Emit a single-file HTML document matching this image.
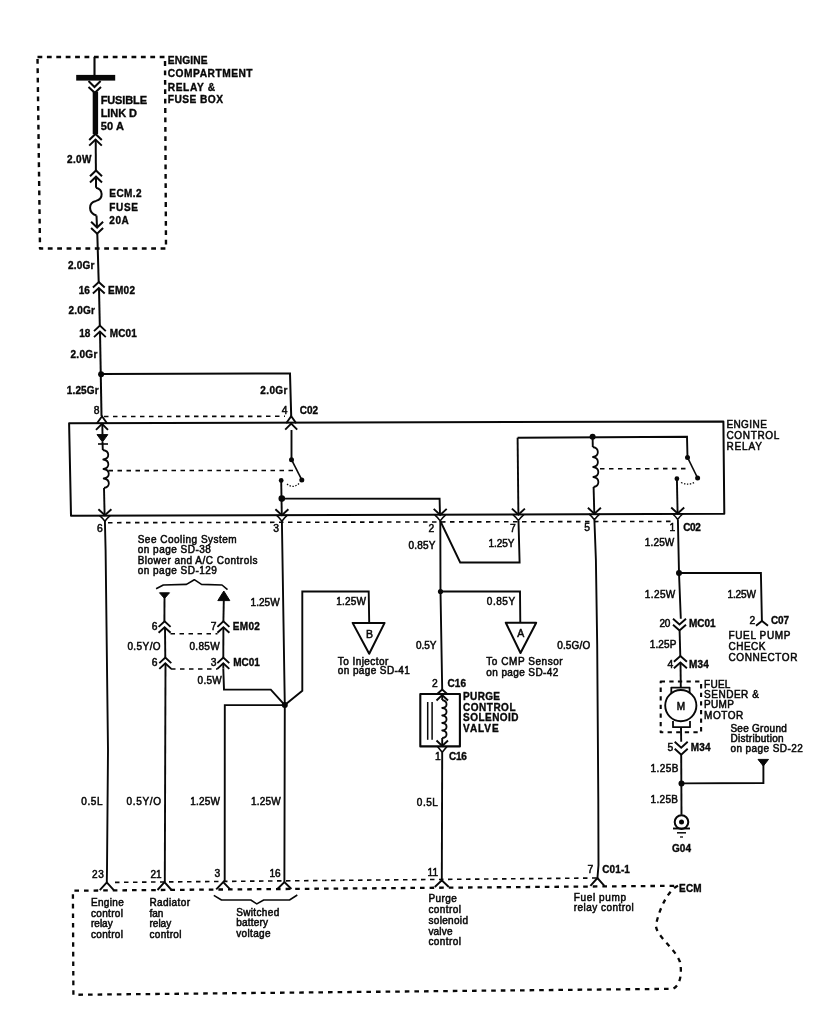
<!DOCTYPE html>
<html><head><meta charset="utf-8"><style>
html,body{margin:0;padding:0;background:#fff;}
svg{display:block;will-change:transform;}
text{font-family:"Liberation Sans",sans-serif;fill:#080808;}
text.r{stroke:#080808;stroke-width:0.5px;}
text[font-weight]{stroke:#080808;stroke-width:0.35px;}
</style></head><body>
<svg width="813" height="1024" viewBox="0 0 813 1024">
<rect width="813" height="1024" fill="#fff"/>
<path d="M37.5 57 L165 57 L166 248.5 L40 248.5 Z" fill="none" stroke="#080808" stroke-width="2.40" stroke-linecap="butt" stroke-linejoin="round" stroke-dasharray="4.8 4.6"/>
<text x="167.7" y="64.0" font-size="10.2" font-weight="bold" textLength="39.9" lengthAdjust="spacing">ENGINE</text>
<text x="167.7" y="77.3" font-size="10.2" font-weight="bold" textLength="84.9" lengthAdjust="spacing">COMPARTMENT</text>
<text x="167.7" y="90.6" font-size="10.2" font-weight="bold" textLength="47.3" lengthAdjust="spacing">RELAY &amp;</text>
<text x="167.7" y="103.0" font-size="10.2" font-weight="bold" textLength="55.3" lengthAdjust="spacing">FUSE BOX</text>
<path d="M94.5 57.0 L94.5 75.0" fill="none" stroke="#080808" stroke-width="2.10" stroke-linecap="butt" stroke-linejoin="miter"/>
<rect x="76.2" y="74.9" width="39" height="5.7" fill="#080808"/>
<path d="M88.5 81.0 L94.5 87.0 L100.6 81.0" fill="none" stroke="#080808" stroke-width="2.00" stroke-linecap="butt" stroke-linejoin="miter"/>
<path d="M88.5 87.0 L94.8 92.8 L101.0 87.0" fill="none" stroke="#080808" stroke-width="2.00" stroke-linecap="butt" stroke-linejoin="miter"/>
<rect x="92.7" y="91.7" width="5.4" height="42.5" fill="#080808"/>
<text x="100.7" y="104.0" font-size="11.0" font-weight="bold" textLength="46.3" lengthAdjust="spacing">FUSIBLE</text>
<text x="100.7" y="117.0" font-size="11.0" font-weight="bold" textLength="36.3" lengthAdjust="spacing">LINK D</text>
<text x="100.7" y="130.4" font-size="11.0" font-weight="bold" textLength="23.3" lengthAdjust="spacing">50 A</text>
<path d="M89.2 140.0 L95.5 134.0 L101.8 140.0" fill="none" stroke="#080808" stroke-width="2.00" stroke-linecap="butt" stroke-linejoin="miter"/>
<path d="M89.2 145.6 L95.5 139.6 L101.8 145.6" fill="none" stroke="#080808" stroke-width="2.00" stroke-linecap="butt" stroke-linejoin="miter"/>
<path d="M95.7 139.4 L95.9 170.5" fill="none" stroke="#080808" stroke-width="2.00" stroke-linecap="butt" stroke-linejoin="miter"/>
<text x="67.0" y="162.8" font-size="10.0" font-weight="bold" textLength="24.5" lengthAdjust="spacing">2.0W</text>
<path d="M90.0 176.2 L96.0 170.5 L102.0 176.2" fill="none" stroke="#080808" stroke-width="2.00" stroke-linecap="butt" stroke-linejoin="miter"/>
<path d="M90.0 182.4 L96.0 176.7 L102.0 182.4" fill="none" stroke="#080808" stroke-width="2.00" stroke-linecap="butt" stroke-linejoin="miter"/>
<path d="M96.0 176.7 L96.0 187.7" fill="none" stroke="#080808" stroke-width="2.00" stroke-linecap="butt" stroke-linejoin="miter"/>
<path d="M96 187.7 C103 189 104 199 96 200.9 C88 202.5 88 213 96.5 215.5" fill="none" stroke="#080808" stroke-width="2.00" stroke-linecap="butt" stroke-linejoin="round"/>
<path d="M96.5 215.5 L97.0 227.3" fill="none" stroke="#080808" stroke-width="2.00" stroke-linecap="butt" stroke-linejoin="miter"/>
<path d="M91.1 221.8 L97.1 227.5 L103.1 221.8" fill="none" stroke="#080808" stroke-width="2.00" stroke-linecap="butt" stroke-linejoin="miter"/>
<path d="M91.1 228.0 L97.1 233.7 L103.1 228.0" fill="none" stroke="#080808" stroke-width="2.00" stroke-linecap="butt" stroke-linejoin="miter"/>
<text x="109.3" y="197.2" font-size="10.0" font-weight="bold" textLength="32.3" lengthAdjust="spacing">ECM.2</text>
<text x="109.3" y="210.7" font-size="10.0" font-weight="bold" textLength="28.7" lengthAdjust="spacing">FUSE</text>
<text x="109.3" y="223.6" font-size="10.0" font-weight="bold" textLength="19.4" lengthAdjust="spacing">20A</text>
<path d="M97.3 233.5 L98.7 282.0" fill="none" stroke="#080808" stroke-width="2.00" stroke-linecap="butt" stroke-linejoin="miter"/>
<text x="68.0" y="268.5" font-size="10.0" font-weight="bold" textLength="26.4" lengthAdjust="spacing">2.0Gr</text>
<path d="M92.9 287.5 L98.8 282.0 L104.7 287.5" fill="none" stroke="#080808" stroke-width="1.90" stroke-linecap="butt" stroke-linejoin="miter"/>
<path d="M92.9 293.5 L98.8 288.0 L104.7 293.5" fill="none" stroke="#080808" stroke-width="1.90" stroke-linecap="butt" stroke-linejoin="miter"/>
<text x="78.8" y="293.7" font-size="10.0" font-weight="bold">16</text>
<text x="107.9" y="293.7" font-size="10.0" font-weight="bold" textLength="27.1" lengthAdjust="spacing">EM02</text>
<path d="M99.0 288.0 L99.8 325.6" fill="none" stroke="#080808" stroke-width="2.00" stroke-linecap="butt" stroke-linejoin="miter"/>
<text x="68.5" y="314.0" font-size="10.0" font-weight="bold" textLength="26.5" lengthAdjust="spacing">2.0Gr</text>
<path d="M94.0 331.1 L99.9 325.6 L105.8 331.1" fill="none" stroke="#080808" stroke-width="1.90" stroke-linecap="butt" stroke-linejoin="miter"/>
<path d="M94.0 337.1 L99.9 331.6 L105.8 337.1" fill="none" stroke="#080808" stroke-width="1.90" stroke-linecap="butt" stroke-linejoin="miter"/>
<text x="79.3" y="336.7" font-size="10.0" font-weight="bold">18</text>
<text x="109.7" y="336.7" font-size="10.0" font-weight="bold" textLength="27.1" lengthAdjust="spacing">MC01</text>
<path d="M100.0 331.6 L101.5 416.0" fill="none" stroke="#080808" stroke-width="2.00" stroke-linecap="butt" stroke-linejoin="miter"/>
<text x="70.4" y="357.8" font-size="10.0" font-weight="bold" textLength="27.0" lengthAdjust="spacing">2.0Gr</text>
<circle cx="101.1" cy="374.2" r="3.0" fill="#080808"/>
<path d="M101.1 374.0 L290.0 373.5 L291.2 416.0" fill="none" stroke="#080808" stroke-width="2.00" stroke-linecap="butt" stroke-linejoin="miter"/>
<text x="66.7" y="394.0" font-size="10.0" font-weight="bold" textLength="32.0" lengthAdjust="spacing">1.25Gr</text>
<text x="93.7" y="414.4" font-size="10.3" class="r">8</text>
<text x="260.3" y="394.4" font-size="10.0" font-weight="bold" textLength="27.1" lengthAdjust="spacing">2.0Gr</text>
<text x="281.8" y="413.5" font-size="10.3" class="r">4</text>
<text x="299.7" y="413.5" font-size="10.0" font-weight="bold" textLength="18.3" lengthAdjust="spacing">C02</text>
<path d="M69.1 423.3 L723.4 421.4 L724.3 513.8 L71 515.8 Z" fill="none" stroke="#080808" stroke-width="2.00" stroke-linecap="butt" stroke-linejoin="round"/>
<text x="726.4" y="427.8" font-size="10.0" class="r" textLength="40.4" lengthAdjust="spacing">ENGINE</text>
<text x="726.4" y="438.5" font-size="10.0" class="r" textLength="52.9" lengthAdjust="spacing">CONTROL</text>
<text x="726.4" y="450.0" font-size="10.0" class="r" textLength="35.5" lengthAdjust="spacing">RELAY</text>
<path d="M104.0 416.5 L285.0 416.3" fill="none" stroke="#080808" stroke-width="1.60" stroke-linecap="butt" stroke-linejoin="miter" stroke-dasharray="4.5 4.5"/>
<path d="M97.0 423.3 L102.0 416.3 L107.0 423.3" fill="none" stroke="#080808" stroke-width="1.90" stroke-linecap="butt" stroke-linejoin="miter"/>
<path d="M96.0 429.8 L102.0 423.8 L108.0 429.8" fill="none" stroke="#080808" stroke-width="1.90" stroke-linecap="butt" stroke-linejoin="miter"/>
<path d="M286.2 423.2 L291.2 416.2 L296.2 423.2" fill="none" stroke="#080808" stroke-width="1.90" stroke-linecap="butt" stroke-linejoin="miter"/>
<path d="M285.2 429.7 L291.2 423.7 L297.2 429.7" fill="none" stroke="#080808" stroke-width="1.90" stroke-linecap="butt" stroke-linejoin="miter"/>
<path d="M102.3 423.5 L102.5 434.6" fill="none" stroke="#080808" stroke-width="1.90" stroke-linecap="butt" stroke-linejoin="miter"/>
<path d="M97 434.6 L107.8 434.6 L102.5 442 Z" fill="#080808" stroke="#080808" stroke-width="1.00" stroke-linecap="butt" stroke-linejoin="round"/>
<path d="M98.0 444.0 L108.0 444.0" fill="none" stroke="#080808" stroke-width="1.60" stroke-linecap="butt" stroke-linejoin="miter"/>
<path d="M102.5 442.0 L102.8 450.0" fill="none" stroke="#080808" stroke-width="1.90" stroke-linecap="butt" stroke-linejoin="miter"/>
<path d="M102.8 450 C110 451 110 458.5 103.3 459.5 C110 460.5 110 468 103.5 469 C110.5 470 110.5 477.5 103.7 478.5 C110.5 479.5 110.5 487 104 488" fill="none" stroke="#080808" stroke-width="1.80" stroke-linecap="butt" stroke-linejoin="round"/>
<path d="M104.0 488.0 L104.6 515.0" fill="none" stroke="#080808" stroke-width="1.90" stroke-linecap="butt" stroke-linejoin="miter"/>
<path d="M108.5 470.6 L296.0 470.5" fill="none" stroke="#080808" stroke-width="1.60" stroke-linecap="butt" stroke-linejoin="miter" stroke-dasharray="4.5 4.5"/>
<path d="M98.4 509.3 L104.9 515.3 L111.4 509.3" fill="none" stroke="#080808" stroke-width="1.90" stroke-linecap="butt" stroke-linejoin="miter"/>
<path d="M99.4 515.3 Q102.4 517.8 104.9 521.3 Q107.4 517.8 110.4 515.3" fill="none" stroke="#080808" stroke-width="1.50" stroke-linecap="butt" stroke-linejoin="round"/>
<path d="M291.5 430.0 L291.5 459.7" fill="none" stroke="#080808" stroke-width="1.90" stroke-linecap="butt" stroke-linejoin="miter"/>
<circle cx="291.5" cy="459.7" r="2.5" fill="#080808"/>
<path d="M291.5 459.7 L301.8 479.9" fill="none" stroke="#080808" stroke-width="1.60" stroke-linecap="butt" stroke-linejoin="miter"/>
<circle cx="301.8" cy="479.9" r="2.5" fill="#080808"/>
<path d="M287 484 Q293 489 299 483.5" fill="none" stroke="#080808" stroke-width="1.30" stroke-linecap="butt" stroke-linejoin="round" stroke-dasharray="1.4 1.6"/>
<circle cx="281.2" cy="480.4" r="2.4" fill="#080808"/>
<path d="M281.2 480.4 L281.8 515.0" fill="none" stroke="#080808" stroke-width="1.90" stroke-linecap="butt" stroke-linejoin="miter"/>
<circle cx="281.8" cy="498.6" r="3.3" fill="#080808"/>
<path d="M281.8 498.6 L439.6 498.8 L440.0 515.0" fill="none" stroke="#080808" stroke-width="1.90" stroke-linecap="butt" stroke-linejoin="miter"/>
<path d="M275.4 509.2 L281.9 515.2 L288.4 509.2" fill="none" stroke="#080808" stroke-width="1.90" stroke-linecap="butt" stroke-linejoin="miter"/>
<path d="M276.4 515.2 Q279.4 517.7 281.9 521.2 Q284.4 517.7 287.4 515.2" fill="none" stroke="#080808" stroke-width="1.50" stroke-linecap="butt" stroke-linejoin="round"/>
<path d="M433.7 508.9 L440.2 514.9 L446.7 508.9" fill="none" stroke="#080808" stroke-width="1.90" stroke-linecap="butt" stroke-linejoin="miter"/>
<path d="M434.7 514.9 Q437.7 517.4 440.2 520.9 Q442.7 517.4 445.7 514.9" fill="none" stroke="#080808" stroke-width="1.50" stroke-linecap="butt" stroke-linejoin="round"/>
<path d="M517.6 437.7 L687.0 436.7 L687.5 457.4" fill="none" stroke="#080808" stroke-width="1.90" stroke-linecap="butt" stroke-linejoin="miter"/>
<path d="M517.6 437.7 L518.4 514.5" fill="none" stroke="#080808" stroke-width="1.90" stroke-linecap="butt" stroke-linejoin="miter"/>
<path d="M511.9 508.6 L518.4 514.6 L524.9 508.6" fill="none" stroke="#080808" stroke-width="1.90" stroke-linecap="butt" stroke-linejoin="miter"/>
<path d="M512.9 514.6 Q515.9 517.1 518.4 520.6 Q520.9 517.1 523.9 514.6" fill="none" stroke="#080808" stroke-width="1.50" stroke-linecap="butt" stroke-linejoin="round"/>
<circle cx="592.6" cy="436.8" r="3.0" fill="#080808"/>
<path d="M592.8 447 C599.5 448 599.5 456 593 457 C599.5 458 599.5 466 593.2 467 C600 468 600 476 593.4 477 C600 478 600 486 593.6 487" fill="none" stroke="#080808" stroke-width="1.80" stroke-linecap="butt" stroke-linejoin="round"/>
<path d="M592.6 436.8 L592.8 447.0" fill="none" stroke="#080808" stroke-width="1.90" stroke-linecap="butt" stroke-linejoin="miter"/>
<path d="M593.6 487.0 L594.3 513.8" fill="none" stroke="#080808" stroke-width="1.90" stroke-linecap="butt" stroke-linejoin="miter"/>
<path d="M587.9 507.8 L594.4 513.8 L600.9 507.8" fill="none" stroke="#080808" stroke-width="1.90" stroke-linecap="butt" stroke-linejoin="miter"/>
<path d="M588.9 513.8 Q591.9 516.3 594.4 519.8 Q596.9 516.3 599.9 513.8" fill="none" stroke="#080808" stroke-width="1.50" stroke-linecap="butt" stroke-linejoin="round"/>
<path d="M600.0 468.8 L690.0 468.6" fill="none" stroke="#080808" stroke-width="1.60" stroke-linecap="butt" stroke-linejoin="miter" stroke-dasharray="4.5 4.5"/>
<circle cx="687.5" cy="457.4" r="2.5" fill="#080808"/>
<path d="M687.5 457.4 L697.6 478.0" fill="none" stroke="#080808" stroke-width="1.60" stroke-linecap="butt" stroke-linejoin="miter"/>
<circle cx="697.6" cy="478.0" r="2.5" fill="#080808"/>
<path d="M681 482.5 Q689 486 695 482" fill="none" stroke="#080808" stroke-width="1.30" stroke-linecap="butt" stroke-linejoin="round" stroke-dasharray="1.4 1.6"/>
<circle cx="676.9" cy="478.7" r="2.4" fill="#080808"/>
<path d="M676.9 478.7 L677.6 513.5" fill="none" stroke="#080808" stroke-width="1.90" stroke-linecap="butt" stroke-linejoin="miter"/>
<path d="M671.2 507.5 L677.7 513.5 L684.2 507.5" fill="none" stroke="#080808" stroke-width="1.90" stroke-linecap="butt" stroke-linejoin="miter"/>
<path d="M672.2 513.5 Q675.2 516.0 677.7 519.5 Q680.2 516.0 683.2 513.5" fill="none" stroke="#080808" stroke-width="1.50" stroke-linecap="butt" stroke-linejoin="round"/>
<path d="M108.0 522.7 L674.0 521.4" fill="none" stroke="#080808" stroke-width="1.60" stroke-linecap="butt" stroke-linejoin="miter" stroke-dasharray="4.5 4.5"/>
<text x="96.9" y="532.0" font-size="10.3" class="r">6</text>
<text x="273.3" y="531.8" font-size="10.3" class="r">3</text>
<text x="428.4" y="532.0" font-size="10.3" class="r">2</text>
<text x="510.0" y="532.0" font-size="10.3" class="r">7</text>
<text x="584.3" y="531.0" font-size="10.3" class="r">5</text>
<text x="669.4" y="531.0" font-size="10.3" class="r">1</text>
<text x="683.2" y="531.0" font-size="10.0" font-weight="bold" textLength="17.7" lengthAdjust="spacing">C02</text>
<path d="M104.9 521.0 L105.6 550.0 L108.0 750.0 L107.0 870.0 L106.8 882.0" fill="none" stroke="#080808" stroke-width="1.90" stroke-linecap="butt" stroke-linejoin="miter"/>
<text x="81.3" y="805.0" font-size="10.0" class="r" textLength="21.2" lengthAdjust="spacing">0.5L</text>
<path d="M281.9 521.0 L284.8 705.1 L284.4 882.0" fill="none" stroke="#080808" stroke-width="1.90" stroke-linecap="butt" stroke-linejoin="miter"/>
<text x="250.5" y="605.5" font-size="10.0" class="r" textLength="29.2" lengthAdjust="spacing">1.25W</text>
<circle cx="284.8" cy="705.1" r="3.0" fill="#080808"/>
<text x="251.0" y="805.0" font-size="10.0" class="r" textLength="29.7" lengthAdjust="spacing">1.25W</text>
<path d="M284.8 705.1 L302.3 690.7 L302.3 591.5 L368.7 591.5 L369.2 622.9" fill="none" stroke="#080808" stroke-width="1.90" stroke-linecap="butt" stroke-linejoin="miter"/>
<text x="336.2" y="604.8" font-size="10.0" class="r" textLength="29.8" lengthAdjust="spacing">1.25W</text>
<path d="M352.6 622.9 L384.6 622.9 L369.2 653.7 Z" fill="none" stroke="#080808" stroke-width="2.00" stroke-linecap="butt" stroke-linejoin="round"/>
<text x="369.5" y="637.5" font-size="10.5" class="r" text-anchor="middle">B</text>
<text x="337.8" y="664.7" font-size="10.0" class="r" textLength="50.5" lengthAdjust="spacing">To Injector</text>
<text x="337.8" y="673.5" font-size="10.0" class="r" textLength="72.0" lengthAdjust="spacing">on page SD-41</text>
<path d="M284.8 705.1 L224.8 705.1 L224.7 882.0" fill="none" stroke="#080808" stroke-width="1.90" stroke-linecap="butt" stroke-linejoin="miter"/>
<text x="190.2" y="805.0" font-size="10.0" class="r" textLength="29.8" lengthAdjust="spacing">1.25W</text>
<path d="M223.3 668.6 L224.0 689.6 L270.8 689.6 L284.8 705.1" fill="none" stroke="#080808" stroke-width="1.90" stroke-linecap="butt" stroke-linejoin="miter"/>
<text x="197.5" y="684.0" font-size="10.0" class="r" textLength="24.3" lengthAdjust="spacing">0.5W</text>
<text x="137.7" y="542.9" font-size="10.0" class="r" textLength="99.0" lengthAdjust="spacing">See Cooling System</text>
<text x="137.7" y="553.2" font-size="10.0" class="r" textLength="73.2" lengthAdjust="spacing">on page SD-38</text>
<text x="137.7" y="563.6" font-size="10.0" class="r" textLength="119.7" lengthAdjust="spacing">Blower and A/C Controls</text>
<text x="137.7" y="573.9" font-size="10.0" class="r" textLength="79.2" lengthAdjust="spacing">on page SD-129</text>
<path d="M156.1 588.8 L163.3 585 L186.5 584.4 L194.3 579.7 L201.5 584.4 L222 585 L227.5 589.7" fill="none" stroke="#080808" stroke-width="1.60" stroke-linecap="butt" stroke-linejoin="round"/>
<path d="M159.5 592.8 L169.5 592.8 L164.5 598.5 Z" fill="#080808" stroke="#080808" stroke-width="1.00" stroke-linecap="butt" stroke-linejoin="round"/>
<path d="M217.8 600.6 L229.8 600.6 L223.8 591 Z" fill="#080808" stroke="#080808" stroke-width="1.00" stroke-linecap="butt" stroke-linejoin="round"/>
<path d="M164.5 598.0 L164.4 621.4" fill="none" stroke="#080808" stroke-width="1.90" stroke-linecap="butt" stroke-linejoin="miter"/>
<path d="M158.6 626.9 L164.6 621.4 L170.6 626.9" fill="none" stroke="#080808" stroke-width="1.90" stroke-linecap="butt" stroke-linejoin="miter"/>
<path d="M158.6 632.7 L164.6 627.2 L170.6 632.7" fill="none" stroke="#080808" stroke-width="1.90" stroke-linecap="butt" stroke-linejoin="miter"/>
<path d="M165.0 627.2 L165.3 657.6" fill="none" stroke="#080808" stroke-width="1.90" stroke-linecap="butt" stroke-linejoin="miter"/>
<path d="M159.3 663.1 L165.3 657.6 L171.3 663.1" fill="none" stroke="#080808" stroke-width="1.90" stroke-linecap="butt" stroke-linejoin="miter"/>
<path d="M159.3 668.9 L165.3 663.4 L171.3 668.9" fill="none" stroke="#080808" stroke-width="1.90" stroke-linecap="butt" stroke-linejoin="miter"/>
<path d="M165.5 663.4 L164.8 882.0" fill="none" stroke="#080808" stroke-width="1.90" stroke-linecap="butt" stroke-linejoin="miter"/>
<path d="M223.8 600.0 L223.4 621.4" fill="none" stroke="#080808" stroke-width="1.90" stroke-linecap="butt" stroke-linejoin="miter"/>
<path d="M217.4 626.9 L223.4 621.4 L229.4 626.9" fill="none" stroke="#080808" stroke-width="1.90" stroke-linecap="butt" stroke-linejoin="miter"/>
<path d="M217.4 632.7 L223.4 627.2 L229.4 632.7" fill="none" stroke="#080808" stroke-width="1.90" stroke-linecap="butt" stroke-linejoin="miter"/>
<path d="M223.4 627.2 L223.3 657.6" fill="none" stroke="#080808" stroke-width="1.90" stroke-linecap="butt" stroke-linejoin="miter"/>
<path d="M217.3 663.1 L223.3 657.6 L229.3 663.1" fill="none" stroke="#080808" stroke-width="1.90" stroke-linecap="butt" stroke-linejoin="miter"/>
<path d="M217.3 668.9 L223.3 663.4 L229.3 668.9" fill="none" stroke="#080808" stroke-width="1.90" stroke-linecap="butt" stroke-linejoin="miter"/>
<path d="M223.3 663.4 L223.3 668.6" fill="none" stroke="#080808" stroke-width="1.90" stroke-linecap="butt" stroke-linejoin="miter"/>
<path d="M170.5 633.7 L217.5 633.7" fill="none" stroke="#080808" stroke-width="1.50" stroke-linecap="butt" stroke-linejoin="miter" stroke-dasharray="4.5 4.5"/>
<path d="M171.0 669.0 L217.5 669.0" fill="none" stroke="#080808" stroke-width="1.50" stroke-linecap="butt" stroke-linejoin="miter" stroke-dasharray="4.5 4.5"/>
<text x="151.7" y="630.3" font-size="10.3" class="r">6</text>
<text x="210.8" y="630.3" font-size="10.3" class="r">7</text>
<text x="232.8" y="629.8" font-size="10.0" font-weight="bold" textLength="27.0" lengthAdjust="spacing">EM02</text>
<text x="127.4" y="650.2" font-size="10.0" class="r" textLength="33.2" lengthAdjust="spacing">0.5Y/O</text>
<text x="189.4" y="650.2" font-size="10.0" class="r" textLength="30.2" lengthAdjust="spacing">0.85W</text>
<text x="151.7" y="665.7" font-size="10.3" class="r">6</text>
<text x="210.8" y="665.7" font-size="10.3" class="r">3</text>
<text x="233.2" y="665.9" font-size="10.0" font-weight="bold" textLength="26.6" lengthAdjust="spacing">MC01</text>
<text x="126.6" y="805.0" font-size="10.0" class="r" textLength="34.4" lengthAdjust="spacing">0.5Y/O</text>
<path d="M440.3 521.0 L460.2 562.5 L519.6 562.5 L518.5 521.0" fill="none" stroke="#080808" stroke-width="1.90" stroke-linecap="butt" stroke-linejoin="miter"/>
<text x="408.6" y="548.8" font-size="10.0" class="r" textLength="26.7" lengthAdjust="spacing">0.85Y</text>
<text x="488.6" y="547.0" font-size="10.0" class="r" textLength="25.9" lengthAdjust="spacing">1.25Y</text>
<path d="M440.3 521.0 L440.5 591.5 L442.2 689.6" fill="none" stroke="#080808" stroke-width="1.90" stroke-linecap="butt" stroke-linejoin="miter"/>
<circle cx="440.5" cy="591.5" r="2.6" fill="#080808"/>
<path d="M440.5 591.5 L520.0 591.5 L520.3 622.7" fill="none" stroke="#080808" stroke-width="1.90" stroke-linecap="butt" stroke-linejoin="miter"/>
<path d="M505.8 622.7 L536.2 622.7 L520.5 653 Z" fill="none" stroke="#080808" stroke-width="2.00" stroke-linecap="butt" stroke-linejoin="round"/>
<text x="520.8" y="637.0" font-size="10.5" class="r" text-anchor="middle">A</text>
<text x="486.8" y="605.4" font-size="10.0" class="r" textLength="28.3" lengthAdjust="spacing">0.85Y</text>
<text x="416.0" y="648.6" font-size="10.0" class="r" textLength="20.5" lengthAdjust="spacing">0.5Y</text>
<text x="486.3" y="665.2" font-size="10.0" class="r" textLength="76.4" lengthAdjust="spacing">To CMP Sensor</text>
<text x="486.3" y="675.8" font-size="10.0" class="r" textLength="72.0" lengthAdjust="spacing">on page SD-42</text>
<text x="432.0" y="687.3" font-size="10.3" class="r">2</text>
<text x="447.6" y="687.3" font-size="10.0" font-weight="bold" textLength="18.4" lengthAdjust="spacing">C16</text>
<path d="M420.3 694 L459.9 694 L459.9 746.4 L420.3 746.4 Z" fill="none" stroke="#080808" stroke-width="2.10" stroke-linecap="butt" stroke-linejoin="round"/>
<path d="M437.2 694.0 L442.2 689.6 L447.2 694.0" fill="none" stroke="#080808" stroke-width="1.90" stroke-linecap="butt" stroke-linejoin="miter"/>
<path d="M436.5 700.5 L442.2 695.0 L448.0 700.5" fill="none" stroke="#080808" stroke-width="1.90" stroke-linecap="butt" stroke-linejoin="miter"/>
<path d="M442.2 695.0 L442.2 700.0" fill="none" stroke="#080808" stroke-width="1.90" stroke-linecap="butt" stroke-linejoin="miter"/>
<path d="M442.2 700 C448 701 448 707.5 442.2 708 C448 708.5 448 715 442.2 715.5 C448 716 448 722.5 442.2 723 C448 723.5 448 730 442.2 730.5 C448 731 448 737.5 442.2 738" fill="none" stroke="#080808" stroke-width="1.80" stroke-linecap="butt" stroke-linejoin="round"/>
<path d="M442.2 738.0 L442.2 746.0" fill="none" stroke="#080808" stroke-width="1.90" stroke-linecap="butt" stroke-linejoin="miter"/>
<path d="M436.5 740.5 L442.2 746.0 L448.0 740.5" fill="none" stroke="#080808" stroke-width="1.90" stroke-linecap="butt" stroke-linejoin="miter"/>
<path d="M437.5 746.4 L442.2 752.3 L447 746.4" fill="none" stroke="#080808" stroke-width="1.60" stroke-linecap="butt" stroke-linejoin="round"/>
<path d="M427.7 702.0 L427.7 739.8" fill="none" stroke="#080808" stroke-width="1.50" stroke-linecap="butt" stroke-linejoin="miter"/>
<path d="M432.1 702.0 L432.1 739.8" fill="none" stroke="#080808" stroke-width="1.50" stroke-linecap="butt" stroke-linejoin="miter"/>
<text x="463.1" y="700.0" font-size="10.0" font-weight="bold" textLength="36.9" lengthAdjust="spacing">PURGE</text>
<text x="463.1" y="711.0" font-size="10.0" font-weight="bold" textLength="52.4" lengthAdjust="spacing">CONTROL</text>
<text x="463.1" y="721.3" font-size="10.0" font-weight="bold" textLength="55.4" lengthAdjust="spacing">SOLENOID</text>
<text x="463.1" y="732.4" font-size="10.0" font-weight="bold" textLength="35.5" lengthAdjust="spacing">VALVE</text>
<text x="435.0" y="760.4" font-size="10.3" class="r">1</text>
<text x="449.0" y="760.4" font-size="10.0" font-weight="bold" textLength="17.8" lengthAdjust="spacing">C16</text>
<path d="M442.2 752.3 L441.8 882.0" fill="none" stroke="#080808" stroke-width="1.90" stroke-linecap="butt" stroke-linejoin="miter"/>
<text x="416.8" y="805.7" font-size="10.0" class="r" textLength="21.1" lengthAdjust="spacing">0.5L</text>
<path d="M594.4 520.0 L595.9 560.0 L597.2 645.0 L598.3 800.0 L598.5 865.0 L597.4 878.5" fill="none" stroke="#080808" stroke-width="1.90" stroke-linecap="butt" stroke-linejoin="miter"/>
<text x="557.2" y="648.6" font-size="10.0" class="r" textLength="33.0" lengthAdjust="spacing">0.5G/O</text>
<path d="M677.9 520.0 L679.0 573.0 L680.8 618.7" fill="none" stroke="#080808" stroke-width="1.90" stroke-linecap="butt" stroke-linejoin="miter"/>
<text x="644.8" y="546.0" font-size="10.0" class="r" textLength="29.5" lengthAdjust="spacing">1.25W</text>
<circle cx="679.0" cy="573.0" r="3.0" fill="#080808"/>
<path d="M679.0 573.0 L760.9 573.0 L761.9 620.9" fill="none" stroke="#080808" stroke-width="1.90" stroke-linecap="butt" stroke-linejoin="miter"/>
<path d="M756.0 625.7 L761.9 620.9 L768.0 625.7" fill="none" stroke="#080808" stroke-width="1.90" stroke-linecap="butt" stroke-linejoin="miter"/>
<text x="644.8" y="597.7" font-size="10.0" class="r" textLength="30.5" lengthAdjust="spacing">1.25W</text>
<text x="727.4" y="597.7" font-size="10.0" class="r" textLength="28.6" lengthAdjust="spacing">1.25W</text>
<text x="749.4" y="623.6" font-size="10.3" class="r">2</text>
<text x="771.0" y="623.6" font-size="10.0" font-weight="bold" textLength="18.0" lengthAdjust="spacing">C07</text>
<text x="728.5" y="638.9" font-size="10.0" class="r" textLength="61.9" lengthAdjust="spacing">FUEL PUMP</text>
<text x="728.5" y="650.0" font-size="10.0" class="r" textLength="36.9" lengthAdjust="spacing">CHECK</text>
<text x="728.5" y="660.5" font-size="10.0" class="r" textLength="68.9" lengthAdjust="spacing">CONNECTOR</text>
<path d="M673.0 618.7 L679.5 624.5 L686.0 618.7" fill="none" stroke="#080808" stroke-width="1.90" stroke-linecap="butt" stroke-linejoin="miter"/>
<path d="M673.0 624.7 L679.5 630.5 L686.0 624.7" fill="none" stroke="#080808" stroke-width="1.90" stroke-linecap="butt" stroke-linejoin="miter"/>
<text x="659.5" y="626.6" font-size="10.0" class="r" textLength="10.9" lengthAdjust="spacing">20</text>
<text x="689.0" y="626.6" font-size="10.0" font-weight="bold" textLength="26.6" lengthAdjust="spacing">MC01</text>
<path d="M679.6 630.5 L680.3 656.0" fill="none" stroke="#080808" stroke-width="1.90" stroke-linecap="butt" stroke-linejoin="miter"/>
<text x="649.7" y="647.9" font-size="10.0" class="r" textLength="26.6" lengthAdjust="spacing">1.25P</text>
<path d="M673.9 661.8 L680.4 656.0 L686.9 661.8" fill="none" stroke="#080808" stroke-width="1.90" stroke-linecap="butt" stroke-linejoin="miter"/>
<path d="M673.9 668.3 L680.4 662.5 L686.9 668.3" fill="none" stroke="#080808" stroke-width="1.90" stroke-linecap="butt" stroke-linejoin="miter"/>
<text x="667.4" y="667.6" font-size="10.3" class="r">4</text>
<text x="689.0" y="667.6" font-size="10.0" font-weight="bold" textLength="19.7" lengthAdjust="spacing">M34</text>
<path d="M680.5 662.5 L680.8 687.6" fill="none" stroke="#080808" stroke-width="1.90" stroke-linecap="butt" stroke-linejoin="miter"/>
<path d="M660.7 681.5 L701.1 681.5 L701.1 732.3 L660.7 732.3 Z" fill="none" stroke="#080808" stroke-width="2.10" stroke-linecap="butt" stroke-linejoin="round" stroke-dasharray="4.3 4.3"/>
<path d="M671.3 687.6 L689.6 687.6 L689.6 693.5 L671.3 693.5 Z" fill="none" stroke="#080808" stroke-width="1.80" stroke-linecap="butt" stroke-linejoin="round"/>
<circle cx="680.8" cy="705.6" r="15.6" fill="#fff" stroke="#080808" stroke-width="1.9"/>
<path d="M673 721 L673 727.2 L690 727.2 L690 721" fill="none" stroke="#080808" stroke-width="1.80" stroke-linecap="butt" stroke-linejoin="round"/>
<text x="680.8" y="710.0" font-size="10.0" class="r" text-anchor="middle">M</text>
<text x="704.0" y="687.6" font-size="10.0" class="r" textLength="26.4" lengthAdjust="spacing">FUEL</text>
<text x="704.0" y="697.9" font-size="10.0" class="r" textLength="54.8" lengthAdjust="spacing">SENDER &amp;</text>
<text x="704.0" y="708.2" font-size="10.0" class="r" textLength="29.9" lengthAdjust="spacing">PUMP</text>
<text x="704.0" y="718.5" font-size="10.0" class="r" textLength="39.3" lengthAdjust="spacing">MOTOR</text>
<path d="M681.0 727.2 L681.2 741.8" fill="none" stroke="#080808" stroke-width="1.90" stroke-linecap="butt" stroke-linejoin="miter"/>
<path d="M674.7 741.8 L681.2 747.8 L687.7 741.8" fill="none" stroke="#080808" stroke-width="1.90" stroke-linecap="butt" stroke-linejoin="miter"/>
<path d="M674.7 748.8 L681.2 754.8 L687.7 748.8" fill="none" stroke="#080808" stroke-width="1.90" stroke-linecap="butt" stroke-linejoin="miter"/>
<text x="667.5" y="751.3" font-size="10.3" class="r">5</text>
<text x="690.8" y="751.3" font-size="10.0" font-weight="bold" textLength="19.8" lengthAdjust="spacing">M34</text>
<path d="M681.2 754.8 L681.5 814.7" fill="none" stroke="#080808" stroke-width="1.90" stroke-linecap="butt" stroke-linejoin="miter"/>
<text x="650.6" y="772.1" font-size="10.0" class="r" textLength="27.7" lengthAdjust="spacing">1.25B</text>
<text x="650.6" y="803.0" font-size="10.0" class="r" textLength="27.4" lengthAdjust="spacing">1.25B</text>
<circle cx="681.5" cy="783.4" r="3.0" fill="#080808"/>
<path d="M681.5 783.4 L763.4 783.0 L763.4 762.0" fill="none" stroke="#080808" stroke-width="1.90" stroke-linecap="butt" stroke-linejoin="miter"/>
<path d="M758 759.4 L768.5 759.4 L763.3 766 Z" fill="#080808" stroke="#080808" stroke-width="1.00" stroke-linecap="butt" stroke-linejoin="round"/>
<text x="730.4" y="731.7" font-size="10.0" class="r" textLength="56.4" lengthAdjust="spacing">See Ground</text>
<text x="730.4" y="742.3" font-size="10.0" class="r" textLength="53.2" lengthAdjust="spacing">Distribution</text>
<text x="730.4" y="752.3" font-size="10.0" class="r" textLength="72.4" lengthAdjust="spacing">on page SD-22</text>
<circle cx="681.5" cy="822.1" r="6.8" fill="none" stroke="#080808" stroke-width="2"/>
<circle cx="681.5" cy="822.1" r="2.5" fill="#080808"/>
<path d="M673.0 828.5 L690.0 828.5" fill="none" stroke="#080808" stroke-width="1.90" stroke-linecap="butt" stroke-linejoin="miter"/>
<path d="M677.0 832.8 L686.0 832.8" fill="none" stroke="#080808" stroke-width="1.50" stroke-linecap="butt" stroke-linejoin="miter"/>
<path d="M680.0 837.0 L683.0 837.0" fill="none" stroke="#080808" stroke-width="1.30" stroke-linecap="butt" stroke-linejoin="miter"/>
<text x="671.9" y="852.0" font-size="10.0" font-weight="bold" textLength="19.1" lengthAdjust="spacing">G04</text>
<path d="M73.4 994.8 L72.9 890.7 L678 885.8" fill="none" stroke="#080808" stroke-width="2.30" stroke-linecap="butt" stroke-linejoin="round" stroke-dasharray="4.6 5"/>
<path d="M678 885.8 C670 889 660 905 656 925 C655 935 675 948 680 962 C682 972 681 985 673 988.8 L73.4 994.8" fill="none" stroke="#080808" stroke-width="2.30" stroke-linecap="butt" stroke-linejoin="round" stroke-dasharray="4.6 5"/>
<path d="M115.0 882.4 L597.4 878.0" fill="none" stroke="#080808" stroke-width="1.60" stroke-linecap="butt" stroke-linejoin="miter" stroke-dasharray="4.5 4.5"/>
<path d="M99.8 890.1 L106.8 882.4 L113.8 890.1" fill="none" stroke="#080808" stroke-width="1.90" stroke-linecap="butt" stroke-linejoin="miter"/>
<path d="M157.5 890.0 L164.5 882.2 L171.5 890.0" fill="none" stroke="#080808" stroke-width="1.90" stroke-linecap="butt" stroke-linejoin="miter"/>
<path d="M216.2 889.3 L223.2 882.0 L230.2 889.3" fill="none" stroke="#080808" stroke-width="1.90" stroke-linecap="butt" stroke-linejoin="miter"/>
<path d="M277.4 889.0 L284.4 882.0 L291.4 889.0" fill="none" stroke="#080808" stroke-width="1.90" stroke-linecap="butt" stroke-linejoin="miter"/>
<path d="M434.8 887.0 L441.8 880.3 L448.8 887.0" fill="none" stroke="#080808" stroke-width="1.90" stroke-linecap="butt" stroke-linejoin="miter"/>
<path d="M590.4 885.8 L597.4 878.0 L604.4 885.8" fill="none" stroke="#080808" stroke-width="1.90" stroke-linecap="butt" stroke-linejoin="miter"/>
<text x="91.9" y="878.0" font-size="10.0" class="r" textLength="12.0" lengthAdjust="spacing">23</text>
<text x="150.4" y="878.0" font-size="10.0" class="r">21</text>
<text x="214.6" y="877.2" font-size="10.3" class="r">3</text>
<text x="269.5" y="877.2" font-size="10.0" class="r">16</text>
<text x="427.6" y="875.5" font-size="10.0" class="r">11</text>
<text x="587.6" y="872.6" font-size="10.3" class="r">7</text>
<text x="602.3" y="872.6" font-size="10.0" font-weight="bold" textLength="27.6" lengthAdjust="spacing">C01-1</text>
<text x="679.1" y="891.7" font-size="10.0" font-weight="bold" textLength="22.6" lengthAdjust="spacing">ECM</text>
<text x="91.0" y="905.6" font-size="10.0" class="r" textLength="32.7" lengthAdjust="spacing">Engine</text>
<text x="91.0" y="916.8" font-size="10.0" class="r" textLength="31.9" lengthAdjust="spacing">control</text>
<text x="91.0" y="927.2" font-size="10.0" class="r">relay</text>
<text x="91.0" y="937.5" font-size="10.0" class="r" textLength="31.9" lengthAdjust="spacing">control</text>
<text x="149.5" y="905.6" font-size="10.0" class="r" textLength="40.5" lengthAdjust="spacing">Radiator</text>
<text x="149.5" y="916.8" font-size="10.0" class="r">fan</text>
<text x="149.5" y="927.2" font-size="10.0" class="r">relay</text>
<text x="149.5" y="937.5" font-size="10.0" class="r" textLength="31.9" lengthAdjust="spacing">control</text>
<path d="M213.8 895.3 L221.5 900 L250.8 900 L256.8 903.9 L263.7 900 L289.5 900 L297.3 895" fill="none" stroke="#080808" stroke-width="1.50" stroke-linecap="butt" stroke-linejoin="round"/>
<text x="236.2" y="916.0" font-size="10.0" class="r" textLength="43.0" lengthAdjust="spacing">Switched</text>
<text x="236.2" y="926.3" font-size="10.0" class="r" textLength="31.8" lengthAdjust="spacing">battery</text>
<text x="236.2" y="936.6" font-size="10.0" class="r" textLength="34.4" lengthAdjust="spacing">voltage</text>
<text x="428.4" y="902.2" font-size="10.0" class="r" textLength="28.4" lengthAdjust="spacing">Purge</text>
<text x="428.4" y="912.5" font-size="10.0" class="r" textLength="32.6" lengthAdjust="spacing">control</text>
<text x="428.4" y="923.7" font-size="10.0" class="r" textLength="39.6" lengthAdjust="spacing">solenoid</text>
<text x="428.4" y="934.9" font-size="10.0" class="r" textLength="24.1" lengthAdjust="spacing">valve</text>
<text x="428.4" y="945.2" font-size="10.0" class="r" textLength="32.6" lengthAdjust="spacing">control</text>
<text x="573.8" y="900.8" font-size="10.0" class="r" textLength="52.2" lengthAdjust="spacing">Fuel pump</text>
<text x="573.8" y="910.6" font-size="10.0" class="r" textLength="60.0" lengthAdjust="spacing">relay control</text>
</svg></body></html>
